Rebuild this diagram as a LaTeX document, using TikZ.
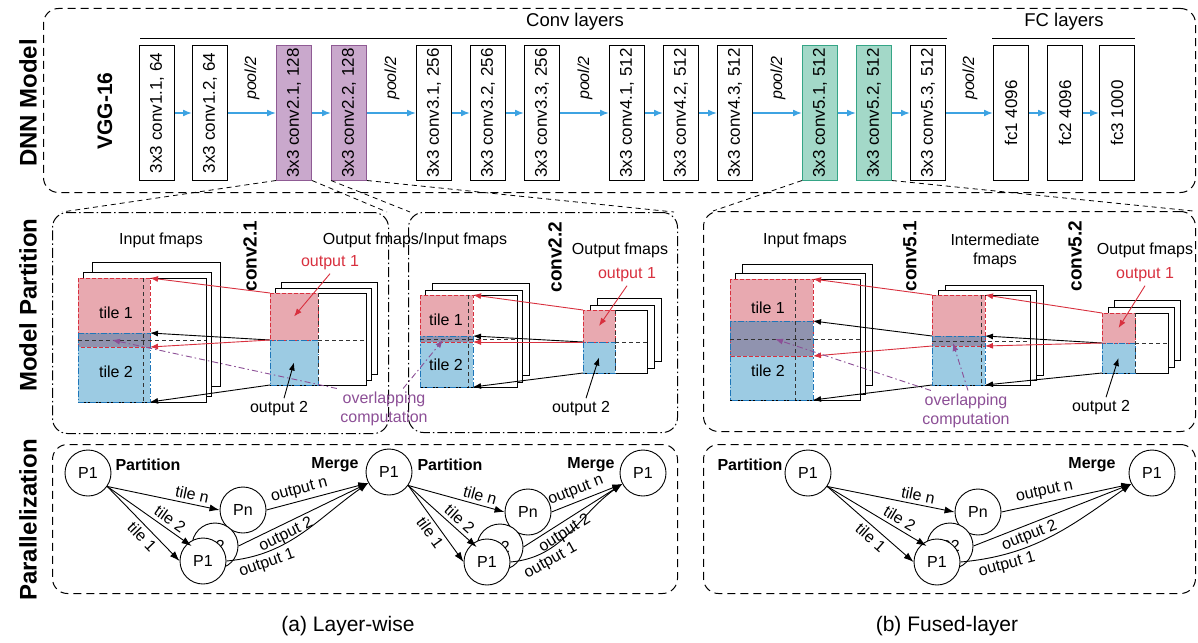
\documentclass[tikz,border=0pt]{standalone}
\usepackage{fontspec}
\setmainfont{Liberation Sans}
\usetikzlibrary{arrows.meta}

\definecolor{flowblue}{HTML}{3DA3E2}
\definecolor{purfill}{HTML}{C9A8CC}
\definecolor{purline}{HTML}{8F5B94}
\definecolor{grnfill}{HTML}{A3D8C8}
\definecolor{grnline}{HTML}{35A586}
\definecolor{tilered}{HTML}{E8A9B0}
\definecolor{redline}{HTML}{D8303E}
\definecolor{tileblue}{HTML}{9CCBE3}
\definecolor{blueline}{HTML}{1E76B9}
\definecolor{overlap}{HTML}{9093AF}
\definecolor{ovpurple}{HTML}{8C4F96}

\begin{document}
\begin{tikzpicture}[x=1pt, y=-1pt,
  font=\fontsize{16}{19}\selectfont,
  layer/.style={draw, line width=1pt, rotate=90, minimum width=134pt, minimum height=35pt, inner sep=0pt, font=\fontsize{17}{19}\selectfont},
  plainbox/.style={},
  purbox/.style={fill=purfill, draw=purline},
  grnbox/.style={fill=grnfill, draw=grnline},
  flow/.style={flowblue, line width=1.6pt, -{Latex[length=9pt,width=7pt]}},
  section/.style={rotate=90, font=\fontsize{24}{24}\selectfont\bfseries},
  convname/.style={rotate=90, font=\fontsize{19}{19}\selectfont\bfseries},
  panel/.style={draw, line width=1pt, rounded corners=15pt, anchor=north west, inner sep=0pt},
  dashdot/.style={dash pattern=on 10pt off 3pt on 1.5pt off 3pt},
  longdash/.style={dash pattern=on 8pt off 5pt},
  link/.style={line width=0.8pt, dash pattern=on 5pt off 4pt},
  sheet/.style={fill=white, draw=black, line width=1pt},
  tile/.style={anchor=north west, inner sep=0pt, outer sep=0pt},
  redtile/.style={redline, line width=1pt, dash pattern=on 4pt off 2pt},
  bluetile/.style={blueline, line width=1pt, dash pattern=on 6pt off 2pt on 1.5pt off 2pt},
  grid/.style={line width=0.9pt, dash pattern=on 4pt off 3pt, black!80},
  redarr/.style={redline, line width=0.9pt, -{Latex[length=8pt,width=6pt]}},
  blkarr/.style={black, line width=0.9pt, -{Latex[length=8pt,width=6pt]}},
  ovarr/.style={ovpurple, line width=0.9pt, dash pattern=on 6pt off 3pt on 1.5pt off 3pt, -{Latex[length=8pt,width=6pt]}},
  proc/.style={shape=circle, draw=black, fill=white, line width=0.9pt, minimum size=46pt, inner sep=0pt},
  pedge/.style={line width=0.9pt, -{Latex[length=10pt,width=7pt]}},
  tag/.style={font=\fontsize{16}{19}\selectfont\bfseries}
]
\useasboundingbox (0,0) rectangle (1198,642);

% DNN model
\node[panel, longdash, minimum width=1152pt, minimum height=184pt] (dnn) at (43,8) {};
\node[section] (secA) at (28,103) {DNN Model};
\node[section] (secB) at (28,305) {Model Partition};
\node[section] (secC) at (28,520) {Parallelization};
\node[rotate=90, font=\fontsize{21}{21}\selectfont\bfseries] (vgg) at (105,111) {VGG-16};
\node[font=\fontsize{18.5}{20}\selectfont] (convhd) at (575,22) {Conv layers};
\node[font=\fontsize{18.5}{20}\selectfont] (fchd) at (1064,22) {FC layers};
\draw[line width=1pt] (140,39) -- (947,39);
\draw[line width=1pt] (992,39) -- (1135,39);

\foreach \x/\t/\i/\s in {157/{3x3 conv1.1, 64}/1/plainbox, 210/{3x3 conv1.2, 64}/2/plainbox,
    294/{3x3 conv2.1, 128}/3/purbox, 349/{3x3 conv2.2, 128}/4/purbox,
    434/{3x3 conv3.1, 256}/5/plainbox, 488/{3x3 conv3.2, 256}/6/plainbox, 542/{3x3 conv3.3, 256}/7/plainbox,
    627/{3x3 conv4.1, 512}/8/plainbox, 681/{3x3 conv4.2, 512}/9/plainbox, 735/{3x3 conv4.3, 512}/10/plainbox,
    820/{3x3 conv5.1, 512}/11/grnbox, 874/{3x3 conv5.2, 512}/12/grnbox, 928/{3x3 conv5.3, 512}/13/plainbox,
    1011/{fc1 4096}/14/plainbox, 1065/{fc2 4096}/15/plainbox, 1117/{fc3 1000}/16/plainbox}
  \node[layer, \s] (L\i) at (\x,113) {\t};
\foreach \i [remember=\i as \last (initially 1)] in {2,...,16}
  \draw[flow] (L\last) -- (L\i);
\foreach \x/\i in {252/1,392/2,585/3,778/4,970/5}
  \node[rotate=90, font=\fontsize{16}{19}\selectfont\itshape] (pool\i) at (\x,78) {pool/2};

% model partition
\node[panel, dashdot, minimum width=336pt, minimum height=221pt] (pA1) at (52,212) {};
\node[panel, dashdot, minimum width=269pt, minimum height=220pt] (pA2) at (408,212) {};
\node[panel, longdash, minimum width=492pt, minimum height=220pt] (pB) at (703,211) {};
\draw[link] (L3.north west) -- ([xshift=10pt]pA1.north west);
\draw[link] (L3.south west) -- ([xshift=-2pt]pA1.north east);
\draw[link] (L4.north west) -- ([xshift=2pt]pA2.north west);
\draw[link] (L4.south west) -- ([xshift=-4pt]pA2.north east);
\draw[link] (L11.north west) -- ([xshift=10pt]pB.north west);
\draw[link] (L12.south west) -- ([xshift=-3pt]pB.north east);

% conv2.1
\node (inA1) at (161,240) {Input fmaps};
\node[convname] (cvA1) at (250,256) {conv2.1};
\node (ioA1) at (415,240) {Output fmaps/Input fmaps};
\foreach \dx/\dy in {14/16,5/6,0/0}
  \filldraw[sheet] (78+\dx,278-\dy) rectangle ++(128,124);
\node[tile, fill=tilered, minimum width=72pt, minimum height=69pt] (a1t1) at (78,278) {};
\node[tile, fill=tileblue, minimum width=72pt, minimum height=69pt] (a1t2) at (78,333) {};
\fill[overlap] (a1t2.north west) rectangle (a1t1.south east);
\draw[redtile] (a1t1.north west) rectangle (a1t1.south east);
\draw[bluetile] (a1t2.north west) rectangle (a1t2.south east);
\draw[grid] (143,278) -- (143,402);
\draw[grid] (78,340) -- (206,340);
\node (a1l1) at (116,313) {tile 1};
\node (a1l2) at (116,372) {tile 2};
\foreach \dx/\dy in {11/11,5/5,0/0}
  \filldraw[sheet] (270+\dx,293-\dy) rectangle ++(96,92);
\node[tile, fill=tilered, minimum width=48pt, minimum height=47pt] (a1o1) at (270,293) {};
\node[tile, fill=tileblue, minimum width=48pt, minimum height=45pt] (a1o2) at (270,340) {};
\draw[redtile] (a1o1.north west) rectangle (a1o1.south east);
\draw[bluetile] (a1o2.north west) rectangle (a1o2.south east);
\draw[grid] (318,293) -- (318,385);
\draw[grid] (318,340) -- (366,340);
\node[text=redline] (a1r) at (330,263) {output 1};
\node (a1k) at (279,409) {output 2};
\draw[redarr] (a1r.south) -- (a1o1.center);
\draw[blkarr] ([xshift=5pt]a1k.north) -- (a1o2.center);
\draw[redarr] (a1o1.north west) -- (a1t1.north east);
\draw[blkarr] (a1o2.north west) -- (a1t2.north east);
\draw[redarr] (a1o1.south west) -- (a1t1.south east);
\draw[blkarr] (a1o2.south west) -- (a1t2.south east);

% conv2.2
\node[convname] (cvA2) at (555,257) {conv2.2};
\node (outA2) at (620,250) {Output fmaps};
\foreach \dx/\dy in {12/12,5/5,0/0}
  \filldraw[sheet] (420+\dx,295-\dy) rectangle ++(97,92);
\node[tile, fill=tilered, minimum width=53pt, minimum height=47pt] (a2t1) at (420,295) {};
\node[tile, fill=tileblue, minimum width=53pt, minimum height=51pt] (a2t2) at (420,336) {};
\fill[overlap] (a2t2.north west) rectangle (a2t1.south east);
\draw[redtile] (a2t1.north west) rectangle (a2t1.south east);
\draw[bluetile] (a2t2.north west) rectangle (a2t2.south east);
\draw[grid] (468,295) -- (468,387);
\draw[grid] (420,339) -- (517,339);
\node (a2l1) at (446,320) {tile 1};
\node (a2l2) at (446,365) {tile 2};
\foreach \dx/\dy in {14/12,7/5,0/0}
  \filldraw[sheet] (583+\dx,310-\dy) rectangle ++(64,63);
\node[tile, fill=tilered, minimum width=32pt, minimum height=32pt] (a2o1) at (583,310) {};
\node[tile, fill=tileblue, minimum width=32pt, minimum height=31pt] (a2o2) at (583,342) {};
\draw[redtile] (a2o1.north west) rectangle (a2o1.south east);
\draw[bluetile] (a2o2.north west) rectangle (a2o2.south east);
\draw[grid] (615,310) -- (615,373);
\draw[grid] (615,342) -- (647,342);
\node[text=redline] (a2r) at (627,275) {output 1};
\node (a2k) at (581,409) {output 2};
\draw[redarr] (a2r.south) -- (a2o1.center);
\draw[blkarr] ([xshift=5pt]a2k.north) -- (a2o2.center);
\draw[redarr] (a2o1.north west) -- (a2t1.north east);
\draw[blkarr] (a2o2.north west) -- (a2t2.north east);
\draw[redarr] (a2o1.south west) -- (a2t1.south east);
\draw[blkarr] (a2o2.south west) -- (a2t2.south east);

\node[text=ovpurple, align=center] (ovA) at (384,409) {overlapping\\computation};
\coordinate (a1ov) at (112,340);
\coordinate (a2ov) at (443,340);
\draw[ovarr] (ovA.north west) -- (a1ov);
\draw[ovarr] ([xshift=-28pt]ovA.north east) -- (a2ov);

% fused conv5.1 + conv5.2
\node (inB) at (805,240) {Input fmaps};
\node[convname] (cvB1) at (910,256) {conv5.1};
\node[align=center] (imB) at (995,251) {Intermediate\\fmaps};
\node[convname] (cvB2) at (1075,256) {conv5.2};
\node (outB) at (1145,250) {Output fmaps};
\foreach \dx/\dy in {12/15,5/6,0/0}
  \filldraw[sheet] (730+\dx,279-\dy) rectangle ++(130,121);
\node[tile, fill=tilered, minimum width=83pt, minimum height=77pt] (bt1) at (730,279) {};
\node[tile, fill=tileblue, minimum width=83pt, minimum height=79pt] (bt2) at (730,321) {};
\fill[overlap] (bt2.north west) rectangle (bt1.south east);
\draw[redtile] (bt1.north west) rectangle (bt1.south east);
\draw[bluetile] (bt2.north west) rectangle (bt2.south east);
\draw[grid] (795,279) -- (795,400);
\draw[grid] (730,339) -- (860,339);
\node (bl1) at (768,308) {tile 1};
\node (bl2) at (768,371) {tile 2};
\foreach \dx/\dy in {13/10,6/5,0/0}
  \filldraw[sheet] (932+\dx,295-\dy) rectangle ++(98,90);
\node[tile, fill=tilered, minimum width=53pt, minimum height=51pt] (bm1) at (932,295) {};
\node[tile, fill=tileblue, minimum width=53pt, minimum height=49pt] (bm2) at (932,336) {};
\fill[overlap] (bm2.north west) rectangle (bm1.south east);
\draw[redtile] (bm1.north west) rectangle (bm1.south east);
\draw[bluetile] (bm2.north west) rectangle (bm2.south east);
\draw[grid] (981,295) -- (981,385);
\draw[grid] (932,341) -- (1030,341);
\foreach \dx/\dy in {12/13,6/6,0/0}
  \filldraw[sheet] (1102+\dx,313-\dy) rectangle ++(66,60);
\node[tile, fill=tilered, minimum width=33pt, minimum height=30pt] (bo1) at (1102,313) {};
\node[tile, fill=tileblue, minimum width=33pt, minimum height=30pt] (bo2) at (1102,343) {};
\draw[redtile] (bo1.north west) rectangle (bo1.south east);
\draw[bluetile] (bo2.north west) rectangle (bo2.south east);
\draw[grid] (1135,313) -- (1135,373);
\draw[grid] (1135,343) -- (1168,343);
\node[text=redline] (br) at (1145,275) {output 1};
\node (bk) at (1101,408) {output 2};
\draw[redarr] (br.south) -- (bo1.center);
\draw[blkarr] ([xshift=5pt]bk.north) -- (bo2.center);
\draw[redarr] (bo1.north west) -- (bm1.north east);
\draw[blkarr] (bo2.north west) -- (bm2.north east);
\draw[redarr] (bo1.south west) -- (bm1.south east);
\draw[blkarr] (bo2.south west) -- (bm2.south east);
\draw[redarr] (bm1.north west) -- (bt1.north east);
\draw[blkarr] (bm2.north west) -- (bt2.north east);
\draw[redarr] (bm1.south west) -- (bt1.south east);
\draw[blkarr] (bm2.south west) -- (bt2.south east);

\node[text=ovpurple, align=center] (ovB) at (966,411) {overlapping\\computation};
\coordinate (bov1) at (775,339);
\coordinate (bov2) at (953,343);
\draw[ovarr] ([xshift=12pt]ovB.north west) -- (bov1);
\draw[ovarr] ([xshift=2pt]ovB.north) -- (bov2);

% parallelization
\node[panel, longdash, minimum width=625pt, minimum height=149pt] (qA) at (52,444) {};
\node[panel, longdash, minimum width=492pt, minimum height=149pt] (qB) at (703,444) {};

\node[proc] (pa) at (88,473) {P1};
\node[tag] (partA) at (148,465) {Partition};
\node[proc] (pan) at (243,510) {Pn};
\node[proc] (pa2) at (215,546) {P2};
\node[proc] (pa1) at (203,561) {P1};
\node[tag] (mrgA) at (335,465) {Merge};
\node[proc] (pm) at (389,472) {P1};
\path[pedge] (pa.325) edge node[sloped, above, pos=0.74] {tile n} (pan.west);
\path[pedge] (pa.325) edge node[sloped, above, pos=0.68] {tile 2} (pa2.west);
\path[pedge] (pa.325) edge node[sloped, below, pos=0.58] {tile 1} (pa1.west);
\path[pedge] (pan.east) edge node[sloped, above, pos=0.35] {output n} (pm.208);
\path[pedge] (pa2.east) edge node[sloped, below, pos=0.33] {output 2} (pm.208);
\path[pedge] (pa1.east) edge[out=5, in=215] node[sloped, below, pos=0.22] {output 1} (pm.208);

\node[tag] (partA2) at (450,465) {Partition};
\node[proc] (qan) at (528,512) {Pn};
\node[proc] (qa2) at (500,547) {P2};
\node[proc] (qa1) at (487,562) {P1};
\node[tag] (mrgA2) at (591,465) {Merge};
\node[proc] (qm) at (643,473) {P1};
\path[pedge] (pm.325) edge node[sloped, above, pos=0.72] {tile n} (qan.west);
\path[pedge] (pm.325) edge node[sloped, above, pos=0.66] {tile 2} (qa2.west);
\path[pedge] (pm.325) edge node[sloped, below, pos=0.54] {tile 1} (qa1.west);
\path[pedge] (qan.east) edge node[sloped, above, pos=0.4] {output n} (qm.208);
\path[pedge] (qa2.east) edge node[sloped, below, pos=0.36] {output 2} (qm.208);
\path[pedge] (qa1.east) edge[out=5, in=215] node[sloped, below, pos=0.26] {output 1} (qm.208);

\node[tag] (partB) at (750,465) {Partition};
\node[proc] (rb) at (808,473) {P1};
\node[proc] (rn) at (978,512) {Pn};
\node[proc] (r2) at (950,546) {P2};
\node[proc] (r1) at (937,562) {P1};
\node[tag] (mrgB) at (1092,465) {Merge};
\node[proc] (rm) at (1152,473) {P1};
\path[pedge] (rb.325) edge node[sloped, above, pos=0.7] {tile n} (rn.west);
\path[pedge] (rb.325) edge node[sloped, above, pos=0.68] {tile 2} (r2.west);
\path[pedge] (rb.325) edge node[sloped, below, pos=0.58] {tile 1} (r1.west);
\path[pedge] (rn.east) edge node[sloped, above, pos=0.35] {output n} (rm.208);
\path[pedge] (r2.east) edge node[sloped, below, pos=0.33] {output 2} (rm.208);
\path[pedge] (r1.east) edge[out=5, in=215] node[sloped, below, pos=0.22] {output 1} (rm.208);

\node[font=\fontsize{21}{21}\selectfont] (capA) at (348,626) {(a) Layer-wise};
\node[font=\fontsize{21}{21}\selectfont] (capB) at (947,626) {(b) Fused-layer};
\end{tikzpicture}
\end{document}
